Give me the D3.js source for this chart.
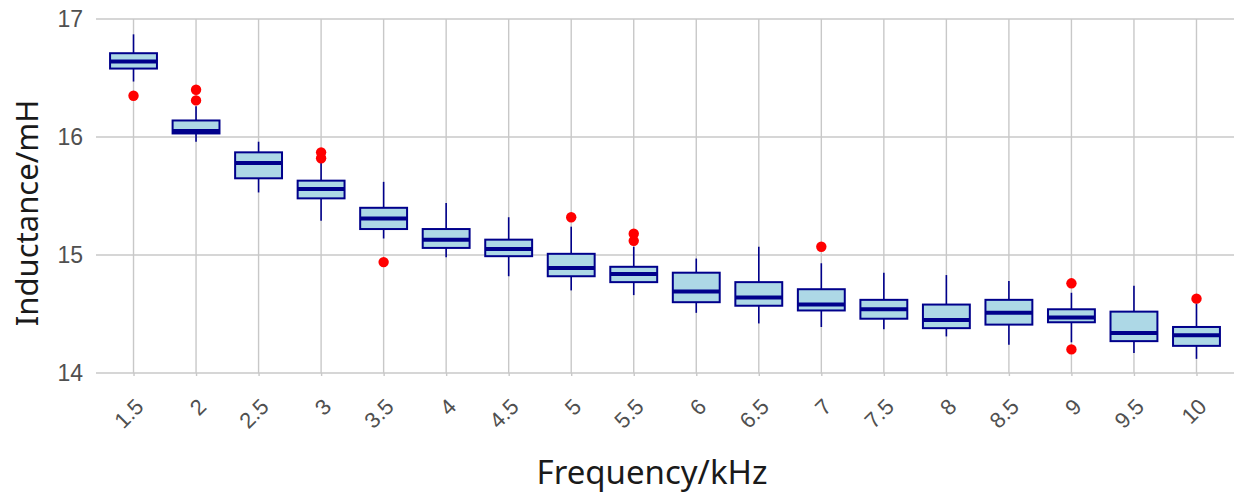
<!DOCTYPE html>
<html>
<head>
<meta charset="utf-8">
<script src="https://cdn.jsdelivr.net/npm/d3@7"></script>
<style>
  body { margin: 0; background: #fff; }
</style>
</head>
<body>
<div id="chart"></div>
<script>
// values
var freqs = ["1.5", "2", "2.5", "3", "3.5", "4", "4.5", "5", "5.5", "6", "6.5", "7", "7.5", "8", "8.5", "9", "9.5", "10"];
var whiskerHigh = [16.87, 16.26, 15.96, 15.78, 15.62, 15.44, 15.32, 15.24, 15.07, 14.97, 15.07, 14.93, 14.85, 14.83, 14.78, 14.68, 14.74, 14.59];
var q3 = [16.71, 16.14, 15.87, 15.63, 15.40, 15.22, 15.13, 15.01, 14.90, 14.85, 14.77, 14.71, 14.62, 14.58, 14.62, 14.54, 14.52, 14.39];
var medians = [16.64, 16.05, 15.78, 15.56, 15.31, 15.13, 15.05, 14.89, 14.84, 14.69, 14.64, 14.58, 14.54, 14.45, 14.51, 14.47, 14.34, 14.32];
var q1 = [16.58, 16.03, 15.65, 15.48, 15.22, 15.06, 14.99, 14.82, 14.77, 14.60, 14.57, 14.53, 14.46, 14.38, 14.41, 14.43, 14.27, 14.23];
var whiskerLow = [16.47, 15.96, 15.53, 15.29, 15.14, 14.98, 14.82, 14.70, 14.66, 14.51, 14.42, 14.39, 14.37, 14.31, 14.24, 14.26, 14.17, 14.12];
var outlierFreq = ["1.5", "2", "2", "3", "3", "3.5", "5", "5.5", "5.5", "7", "9", "9", "10"];
var outlierVal = [16.35, 16.40, 16.31, 15.87, 15.82, 14.94, 15.32, 15.18, 15.12, 15.07, 14.76, 14.20, 14.63];
var yTicks = [14, 15, 16, 17];

var W = 1235, H = 495;
var margin = { left: 96, right: 1234, top: 19, bottom: 373 };

var svg = d3.select("#chart")
    .append("svg")
    .attr("width", W)
    .attr("height", H);

var x = d3.scalePoint()
    .domain(freqs)
    .range([margin.left, margin.right])
    .padding(0.6);

var y = d3.scaleLinear()
    .domain([14, 17])
    .range([margin.bottom, margin.top]);

var boxW = x.step() * 0.75;

var data = [];
for (i = 0; i < freqs.length; i++) {
    data.push({
        "f": freqs[i],
        "lo": whiskerLow[i],
        "q1": q1[i],
        "med": medians[i],
        "q3": q3[i],
        "hi": whiskerHigh[i]
    })
}
var outliers = outlierFreq.map(function (f, i) { return { "f": f, "v": outlierVal[i] } });

// grid
svg.append("g")
    .selectAll("line.hgrid")
    .data(yTicks)
    .enter()
    .append("line")
    .attr("class", "hgrid")
    .attr("x1", margin.left)
    .attr("x2", margin.right)
    .attr("y1", function (d) { return y(d) })
    .attr("y2", function (d) { return y(d) })
    .attr("stroke", "#c8c8c8")
    .attr("stroke-width", 1.4)

svg.append("g")
    .selectAll("line.vgrid")
    .data(freqs)
    .enter()
    .append("line")
    .attr("class", "vgrid")
    .attr("x1", function (d) { return x(d) })
    .attr("x2", function (d) { return x(d) })
    .attr("y1", margin.top)
    .attr("y2", margin.bottom)
    .attr("stroke", "#c8c8c8")
    .attr("stroke-width", 1.4)

// axes (labels + little ticks only)
var yAxis = svg.append("g")
    .attr("transform", "translate(" + margin.left + ",0)")
    .call(d3.axisLeft(y).tickValues(yTicks).tickSize(0).tickPadding(13).tickFormat(d3.format("d")));
yAxis.select(".domain").remove();
yAxis.selectAll("text")
    .style("font-family", "'Liberation Sans', Arial, sans-serif")
    .style("font-size", "23px")
    .attr("fill", "#505050");

var xAxis = svg.append("g")
    .attr("transform", "translate(0," + margin.bottom + ")")
    .call(d3.axisBottom(x).tickSize(3).tickPadding(0));
xAxis.select(".domain").remove();
xAxis.selectAll("line").attr("stroke", "#c8c8c8").attr("stroke-width", 1.4);
xAxis.selectAll("text")
    .attr("y", 0)
    .attr("dy", 0)
    .attr("transform", "translate(11,35) rotate(-45)")
    .style("text-anchor", "end")
    .style("font-family", "'Liberation Sans', Arial, sans-serif")
    .style("font-size", "22px")
    .attr("fill", "#505050");

// whiskers
svg.append("g")
    .selectAll("line.whisker")
    .data(data)
    .enter()
    .append("line")
    .attr("class", "whisker")
    .attr("x1", function (d) { return x(d.f) })
    .attr("x2", function (d) { return x(d.f) })
    .attr("y1", function (d) { return y(d.lo) })
    .attr("y2", function (d) { return y(d.hi) })
    .attr("stroke", "#00008b")
    .attr("stroke-width", 1.6)

// boxes
svg.append("g")
    .selectAll("rect.box")
    .data(data)
    .enter()
    .append("rect")
    .attr("class", "box")
    .attr("x", function (d) { return x(d.f) - boxW / 2 })
    .attr("width", boxW)
    .attr("y", function (d) { return y(d.q3) })
    .attr("height", function (d) { return y(d.q1) - y(d.q3) })
    .attr("fill", "#add8e6")
    .attr("stroke", "#00008b")
    .attr("stroke-width", 2)

// medians
svg.append("g")
    .selectAll("line.median")
    .data(data)
    .enter()
    .append("line")
    .attr("class", "median")
    .attr("x1", function (d) { return x(d.f) - boxW / 2 })
    .attr("x2", function (d) { return x(d.f) + boxW / 2 })
    .attr("y1", function (d) { return y(d.med) })
    .attr("y2", function (d) { return y(d.med) })
    .attr("stroke", "#00008b")
    .attr("stroke-width", 4)

// outliers
svg.append("g")
    .selectAll("circle.outlier")
    .data(outliers)
    .enter()
    .append("circle")
    .attr("class", "outlier")
    .attr("cx", function (d) { return x(d.f) })
    .attr("cy", function (d) { return y(d.v) })
    .attr("r", 5.2)
    .attr("fill", "#ff0000")

// axis titles
svg.append("text")
    .text("Frequency/kHz")
    .attr("x", 652)
    .attr("y", 484)
    .attr("text-anchor", "middle")
    .style("font-family", "'Noto Sans', sans-serif")
    .style("font-size", "33px")
    .style("fill", "#1a1a1a")

svg.append("text")
    .text("Inductance/mH")
    .attr("transform", "translate(38,213) rotate(-90)")
    .attr("text-anchor", "middle")
    .style("font-family", "'Noto Sans', sans-serif")
    .style("font-size", "31px")
    .style("fill", "#1a1a1a")
</script>
</body>
</html>
